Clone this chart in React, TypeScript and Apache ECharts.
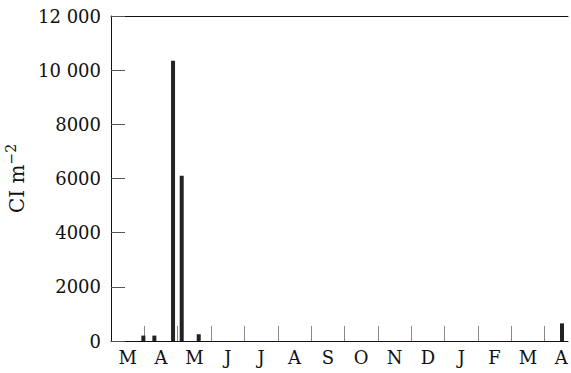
import React, { useEffect, useRef } from "react";
import * as echarts from "echarts";

const monthLabels = ["M", "A", "M", "J", "J", "A", "S", "O", "N", "D", "J", "F", "M", "A"];
// bar positions in months since 1 March (fractional)
const barPositions = [0.97, 1.3, 1.86, 2.12, 2.63, 13.52];
const barValues = [200, 200, 10350, 6100, 250, 650];

const FONT = "DejaVu Serif";

export default function App() {
  const ref = useRef<HTMLDivElement>(null);
  useEffect(() => {
    if (!ref.current) return;
    const chart = echarts.init(ref.current, undefined, { renderer: "svg" });
    const xMax = 13.7;
    const boundaries = monthLabels.map((_, i) => i).filter((i) => i > 0);
    const mids = monthLabels.map((_, i) => i + 0.5);
    chart.setOption({
      animation: false,
      backgroundColor: "#ffffff",
      grid: { left: 111, right: 3, top: 16, bottom: 32, outerBoundsMode: "none", containLabel: false },
      xAxis: [
        {
          type: "value",
          min: 0,
          max: xMax,
          splitLine: { show: false },
          axisLine: { show: true, onZero: false, lineStyle: { color: "#111", width: 1 } },
          axisTick: {
            show: true,
            inside: true,
            length: 15,
            customValues: boundaries,
            lineStyle: { color: "#888", width: 1 },
          },
          axisLabel: {
            show: true,
            customValues: mids,
            margin: 7,
            fontFamily: FONT,
            fontSize: 18,
            color: "#111",
            formatter: (v: number) => monthLabels[Math.floor(v)] ?? "",
          },
        },
        {
          type: "value",
          position: "top",
          min: 0,
          max: xMax,
          splitLine: { show: false },
          axisLine: { show: true, onZero: false, lineStyle: { color: "#111", width: 1 } },
          axisTick: { show: false },
          axisLabel: { show: false },
        },
      ],
      yAxis: {
        type: "value",
        min: 0,
        max: 12000,
        interval: 2000,
        splitLine: { show: false },
        axisLine: { show: true, onZero: false, lineStyle: { color: "#111", width: 1 } },
        axisTick: { show: true, inside: true, length: 14, lineStyle: { color: "#555", width: 1 } },
        axisLabel: {
          margin: 10,
          fontFamily: FONT,
          fontSize: 18,
          color: "#111",
          formatter: (v: number) =>
            v >= 10000 ? `${Math.floor(v / 1000)} ${String(v % 1000).padStart(3, "0")}` : String(v),
        },
        name: "{a|CI m}{b|−2}",
        nameLocation: "middle",
        nameRotate: 90,
        nameGap: 75,
        nameTextStyle: {
          rich: {
            a: { fontFamily: FONT, fontSize: 20, color: "#111" },
            b: { fontFamily: FONT, fontSize: 14, color: "#111", verticalAlign: "bottom", padding: [0, 0, 12, 0] },
          },
        },
      },
      series: [
        {
          type: "bar",
          xAxisIndex: 0,
          barWidth: 4,
          itemStyle: { color: "#222" },
          data: barPositions.map((p, i) => [p, barValues[i]]),
          z: 5,
        },
      ],
    });
    return () => chart.dispose();
  }, []);
  return <div ref={ref} style={{ width: 571, height: 373, position: "absolute", left: 0, top: 0 }} />;
}
